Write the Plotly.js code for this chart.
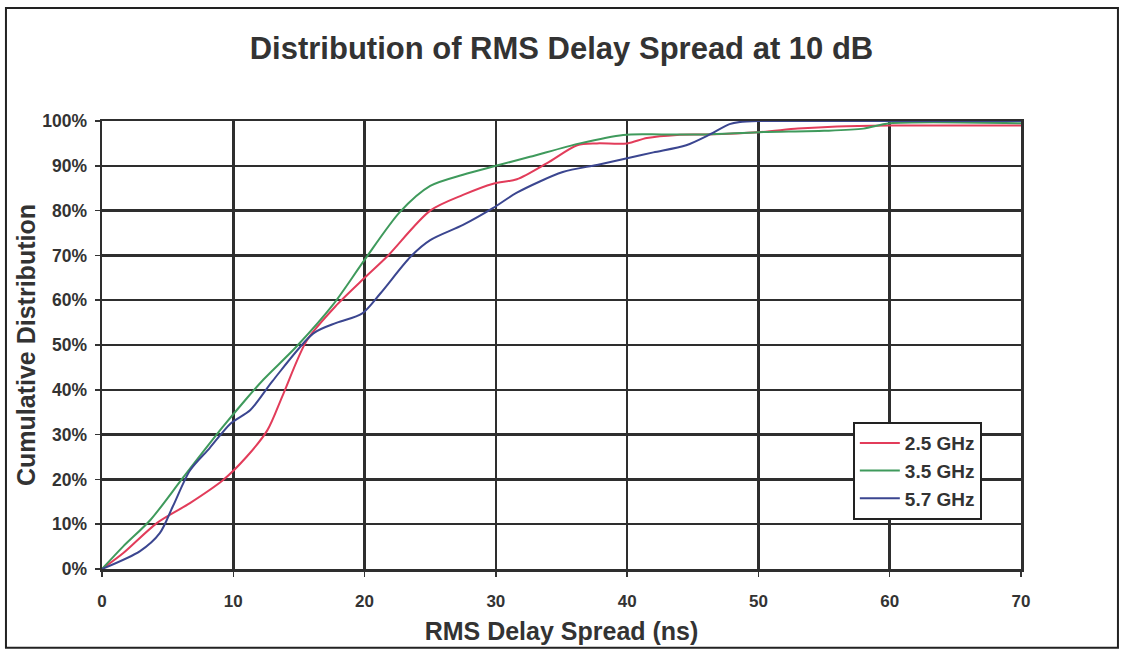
<!DOCTYPE html>
<html>
<head>
<meta charset="utf-8">
<script src="https://cdn.plot.ly/plotly-3.0.1.min.js"></script>
<style>html,body{margin:0;padding:0;background:#fff;}#chart{width:1128px;height:651px;}</style>
</head>
<body>
<div id="chart"></div>
<script>
const xTickVals = [0, 10, 20, 30, 40, 50, 60, 70];
const yTickVals = [0, 10, 20, 30, 40, 50, 60, 70, 80, 90, 100];

const seriesNames = ["2.5 GHz", "3.5 GHz", "5.7 GHz"];

const x25 = [0, 1.6, 4.2, 6.7, 9.2, 11, 12.6, 13.8, 15.6, 17.9, 20, 21.7, 25, 27.5, 29.8, 31.6, 33.9, 36.2, 37.7, 40, 41.5, 43.8, 46, 50, 53, 56, 60, 70];
const y25 = [0, 3.5, 10.3, 14.7, 19.8, 25, 31, 39, 51, 59, 65, 69.7, 80, 83.5, 86, 87, 90.6, 94.6, 95, 95, 96.2, 96.9, 97, 97.5, 98.3, 98.8, 99, 99];

const x35 = [0, 1.6, 3.7, 6.2, 9.2, 11, 12.3, 14.8, 17.6, 20, 22.7, 25, 27.5, 30, 32.6, 36.4, 39.7, 42.7, 46, 50, 55, 58, 60, 70];
const y35 = [0, 5, 11, 20.5, 31.7, 38, 42.3, 49.6, 59, 69, 79.7, 85.5, 88, 90, 92, 95, 96.9, 97, 97, 97.5, 97.8, 98.3, 99.5, 99.5];

const x57 = [0, 2.9, 4.4, 5.4, 6.7, 8.2, 9.8, 11.3, 13, 16.1, 17.9, 19.8, 21.2, 23.5, 25, 27.5, 29.8, 31.6, 35.1, 37.7, 40, 42, 44.5, 46.3, 47.8, 48.6, 50, 55, 70];
const y57 = [0, 4, 8, 14, 22, 27, 32.5, 35.5, 42, 52.6, 55, 57, 61.5, 69.7, 73.4, 76.8, 80.6, 84, 88.6, 90.2, 91.7, 93, 94.6, 97, 99.3, 99.8, 100, 100, 100];

const colors = ["#e23c5a", "#3f9a5c", "#3b4690"];
const xs = [x25, x35, x57];
const ys = [y25, y35, y57];

const FONT = "Liberation Sans, Arial, sans-serif";
const TXT = "#333333";

const traces = seriesNames.map((n, i) => ({
  type: "scatter",
  mode: "lines",
  name: n,
  x: xs[i],
  y: ys[i],
  legendgroup: "g" + i,
  line: {color: colors[i], width: 2, shape: "spline", smoothing: 0.8},
  hoverinfo: "x+y+name"
}));

const layout = {
  width: 1128,
  height: 651,
  paper_bgcolor: "#ffffff",
  plot_bgcolor: "#ffffff",
  margin: {l: 102, r: 107, t: 121, b: 82},
  font: {family: FONT, color: TXT},
  title: {
    text: "Distribution of RMS Delay Spread at 10 dB",
    font: {family: FONT, size: 31, color: TXT, weight: "bold"},
    x: 0.5, xanchor: "center", xref: "paper",
    y: 0.926, yanchor: "middle"
  },
  xaxis: {
    range: [0, 70],
    tickvals: xTickVals,
    ticktext: xTickVals.map(v => String(v)),
    tickfont: {family: FONT, size: 17, color: TXT, weight: "bold"},
    ticks: "outside", ticklen: 5, tickwidth: 1.5, tickcolor: "#333",
    ticklabelstandoff: 10,
    showgrid: true, gridcolor: "#2e2e2e", gridwidth: 2.5,
    showline: true, linecolor: "#2e2e2e", linewidth: 2.5, mirror: true,
    zeroline: false,
    title: {text: "RMS Delay Spread (ns)", font: {family: FONT, size: 25, color: TXT, weight: "bold"}, standoff: 13}
  },
  yaxis: {
    range: [0, 100],
    tickvals: yTickVals,
    ticktext: yTickVals.map(v => v + "%"),
    tickfont: {family: FONT, size: 17.5, color: TXT, weight: "bold"},
    ticks: "outside", ticklen: 5, tickwidth: 1.5, tickcolor: "#333",
    ticklabelstandoff: 4,
    showgrid: true, gridcolor: "#2e2e2e", gridwidth: 2.5,
    showline: true, linecolor: "#2e2e2e", linewidth: 2.5, mirror: true,
    zeroline: false,
    title: {text: "Cumulative Distribution", font: {family: FONT, size: 25, color: TXT, weight: "bold"}, standoff: 0}
  },
  legend: {
    x: 0.817, y: 0.328, xanchor: "left", yanchor: "top",
    bgcolor: "#ffffff", bordercolor: "#222", borderwidth: 2,
    font: {family: FONT, size: 19, color: TXT, weight: "bold"},
    traceorder: "grouped", tracegroupgap: 0, itemwidth: 40
  },
  shapes: [{
    type: "rect", xref: "paper", yref: "paper",
    x0: -0.1045, x1: 1.1055, y0: -0.176, y1: 1.252,
    line: {color: "#222", width: 2}, fillcolor: "rgba(0,0,0,0)", layer: "above"
  }],
  showlegend: true
};

Plotly.newPlot("chart", traces, layout, {displayModeBar: false, staticPlot: true});
</script>
</body>
</html>
